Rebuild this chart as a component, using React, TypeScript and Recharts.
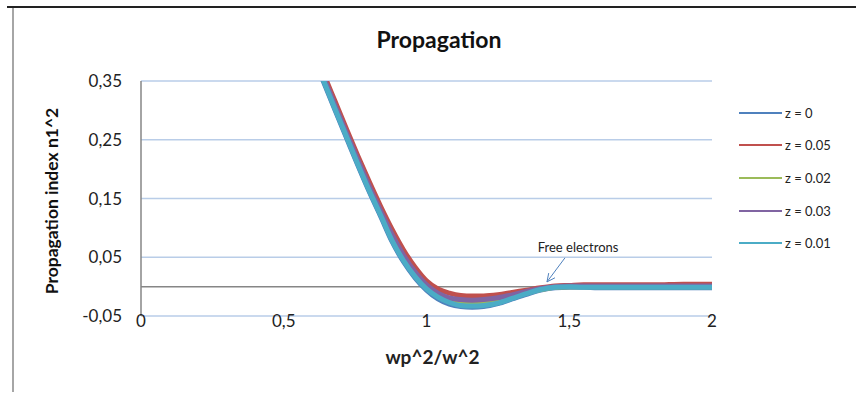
import React from 'react';
import {
  LineChart,
  Line,
  XAxis,
  YAxis,
  CartesianGrid,
  Legend,
  ReferenceLine,
  ReferenceDot,
} from 'recharts';

const xValues = [0.6, 0.64, 0.68, 0.72, 0.76, 0.8, 0.84, 0.88, 0.92, 0.96, 1.0, 1.04, 1.08, 1.12, 1.16, 1.2, 1.25, 1.3, 1.35, 1.4, 1.45, 1.5, 1.55, 1.6, 1.7, 1.8, 1.9, 2.0];

const z0 = [0.395, 0.348, 0.300, 0.253, 0.206, 0.161, 0.119, 0.076, 0.042, 0.015, -0.006, -0.021, -0.030, -0.034, -0.035, -0.034, -0.029, -0.021, -0.013, -0.006, -0.002, -0.001, -0.001, -0.002, -0.002, -0.002, -0.002, -0.002];
const z005 = [0.410, 0.362, 0.315, 0.268, 0.222, 0.178, 0.136, 0.097, 0.062, 0.033, 0.010, -0.004, -0.011, -0.015, -0.016, -0.016, -0.014, -0.010, -0.006, -0.002, 0.001, 0.002, 0.003, 0.003, 0.003, 0.003, 0.004, 0.004];
const z002 = [0.400, 0.353, 0.305, 0.258, 0.211, 0.166, 0.124, 0.083, 0.048, 0.020, -0.001, -0.015, -0.023, -0.027, -0.028, -0.027, -0.024, -0.018, -0.011, -0.005, -0.001, 0.000, 0.000, 0.000, 0.000, 0.000, 0.000, 0.000];
const z003 = [0.403, 0.356, 0.308, 0.261, 0.215, 0.170, 0.128, 0.088, 0.053, 0.025, 0.003, -0.011, -0.019, -0.022, -0.023, -0.022, -0.019, -0.014, -0.008, -0.003, 0.000, 0.001, 0.001, 0.001, 0.001, 0.001, 0.001, 0.001];
const z001 = [0.397, 0.350, 0.302, 0.255, 0.208, 0.163, 0.121, 0.078, 0.044, 0.017, -0.004, -0.018, -0.027, -0.032, -0.033, -0.032, -0.028, -0.020, -0.012, -0.005, -0.001, 0.000, -0.001, -0.001, -0.001, -0.001, -0.001, -0.001];

const xTicks = [0, 0.5, 1, 1.5, 2];
const yTicks = [-0.05, 0.05, 0.15, 0.25, 0.35];

const seriesNames = ['z = 0', 'z = 0.05', 'z = 0.02', 'z = 0.03', 'z = 0.01'];
const seriesKeys = ['z0', 'z005', 'z002', 'z003', 'z001'];
const seriesColors = ['#4F81BD', '#C0504D', '#9BBB59', '#8064A2', '#4BACC6'];

const data = xValues.map((x, i) => ({
  x,
  z0: z0[i],
  z005: z005[i],
  z002: z002[i],
  z003: z003[i],
  z001: z001[i],
}));

const FONT = 'Lato, "Open Sans", sans-serif';
const fmt = (v: number) => String(v).replace('.', ',');

const XTick = (props: any) => {
  const { x, y, payload } = props;
  return (
    <text x={x} y={y + 11} textAnchor="middle" fontSize={17} fontFamily={FONT} fill="#222">
      {fmt(payload.value)}
    </text>
  );
};

const XLabel = (props: any) => {
  const { viewBox } = props;
  return (
    <text x={viewBox.x + viewBox.width / 2 + 6} y={viewBox.y + 48} textAnchor="middle" fontSize={19} fontWeight="bold" fontFamily={FONT} fill="#222">
      wp^2/w^2
    </text>
  );
};

const YLabel = () => (
  <text x={0} y={0} transform="translate(58,201) rotate(-90)" textAnchor="middle" fontSize={17.5} fontWeight="bold" fontFamily={FONT} fill="#111">
    Propagation index n1^2
  </text>
);

const ArrowShape = (props: any) => {
  const { x1, y1, x2, y2 } = props;
  if ([x1, y1, x2, y2].some((v) => typeof v !== 'number')) return null;
  const ang = Math.atan2(y2 - y1, x2 - x1);
  const len = 9;
  const a1 = ang + Math.PI - 0.45;
  const a2 = ang + Math.PI + 0.45;
  return (
    <g stroke="#4F81BD" strokeWidth={1} fill="none">
      <line x1={x1} y1={y1} x2={x2} y2={y2} />
      <line x1={x2} y1={y2} x2={x2 + len * Math.cos(a1)} y2={y2 + len * Math.sin(a1)} />
      <line x1={x2} y1={y2} x2={x2 + len * Math.cos(a2)} y2={y2 + len * Math.sin(a2)} />
    </g>
  );
};

const LegendContent = () => (
  <div style={{ fontFamily: FONT }}>
    {seriesNames.map((name, i) => (
      <div key={name} style={{ display: 'flex', alignItems: 'center', height: 32.7 }}>
        <svg width={46} height={6} style={{ display: 'block' }}>
          <line x1={3} y1={3} x2={46} y2={3} stroke={seriesColors[i]} strokeWidth={2} />
        </svg>
        <span style={{ marginLeft: 3, fontSize: 13, color: '#222', whiteSpace: 'nowrap' }}>{name}</span>
      </div>
    ))}
  </div>
);

export default function App() {
  return (
    <div style={{ position: 'absolute', left: 0, top: 0, width: 856, height: 409, background: '#fff', overflow: 'hidden' }}>
      <div style={{ position: 'absolute', left: 7, top: 6, width: 849, height: 2, background: '#222' }} />
      <div style={{ position: 'absolute', left: 12, top: 8, width: 2, height: 384, background: '#a6a6a6' }} />
      <div
        style={{
          position: 'absolute',
          left: 0,
          top: 28,
          width: 878,
          textAlign: 'center',
          fontFamily: FONT,
          fontWeight: 'bold',
          fontSize: 23,
          lineHeight: '23px',
          color: '#111',
        }}
      >
        Propagation
      </div>
      <LineChart
        width={856}
        height={409}
        data={data}
        margin={{ top: 81, right: 44, left: 0, bottom: 63 }}
        style={{ position: 'absolute', left: 0, top: 0 }}
      >
        <CartesianGrid vertical={false} stroke="#B9CDE8" strokeWidth={1.5} />
        <XAxis
          dataKey="x"
          type="number"
          domain={[0, 2]}
          ticks={xTicks}
          axisLine={false}
          tickLine={false}
          tickSize={0}
          tickMargin={0}
          height={30}
          tick={<XTick />}
          label={<XLabel />}
        />
        <YAxis
          type="number"
          domain={[-0.05, 0.35]}
          ticks={yTicks}
          allowDataOverflow
          width={141}
          axisLine={{ stroke: '#868686', strokeWidth: 1.5 }}
          tickLine={false}
          tickSize={0}
          tickMargin={19}
          tickFormatter={fmt}
          tick={{ fontSize: 17, fontFamily: FONT, fill: '#222' }}
          label={<YLabel />}
        />
        <ReferenceLine y={0} stroke="#868686" strokeWidth={1.5} />
        <Legend
          layout="vertical"
          align="right"
          verticalAlign="top"
          width={100}
          content={<LegendContent />}
          wrapperStyle={{ left: 736, top: 96.4, right: 'auto' }}
        />
        {seriesKeys.map((k, i) => (
          <Line
            key={k}
            type="monotone"
            dataKey={k}
            name={seriesNames[i]}
            stroke={seriesColors[i]}
            strokeWidth={5}
            dot={false}
            activeDot={false}
            isAnimationActive={false}
          />
        ))}
        <ReferenceLine
          segment={[
            { x: 1.485, y: 0.049 },
            { x: 1.422, y: 0.008 },
          ]}
          ifOverflow="visible"
          shape={ArrowShape}
        />
        <ReferenceDot
          x={1.531}
          y={0.066}
          r={0}
          fill="none"
          stroke="none"
          ifOverflow="visible"
          label={{ value: 'Free electrons', position: 'center', fontSize: 13, fontFamily: FONT, fill: '#222' }}
        />
      </LineChart>
    </div>
  );
}
